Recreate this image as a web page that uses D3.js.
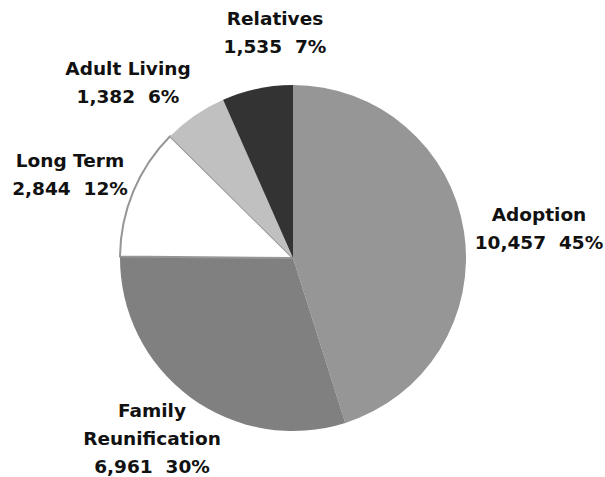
<!DOCTYPE html>
<html><head><meta charset="utf-8">
<script src="https://cdn.jsdelivr.net/npm/d3@7"></script>
<style>body{margin:0;background:#fff}svg{display:block}</style>
</head><body>
<svg id="chart" width="605" height="477"></svg>
<script>
const categories = ["Adoption", "Family Reunification", "Long Term", "Adult Living", "Relatives"];
const values = [10457, 6961, 2844, 1382, 1535];
const percents = ["45%", "30%", "12%", "6%", "7%"];
const colors = ["#969696", "#808080", "#ffffff", "#c0c0c0", "#333333"];
const labelLines = [["Adoption"], ["Family", "Reunification"], ["Long Term"], ["Adult Living"], ["Relatives"]];
const labelPos = [[539, 214], [152, 410], [70, 160], [128, 68], [275, 18]];

const svg = d3.select("#chart");
const cx = 293, cy = 258, r = 173;
const pie = d3.pie().sort(null).value(d => d)(values);
const arc = d3.arc().innerRadius(0).outerRadius(r);
const g = svg.append("g").attr("transform", `translate(${cx},${cy})`);
g.selectAll("path").data(pie).join("path")
  .attr("d", arc)
  .attr("fill", (d,i) => colors[i])
  .attr("stroke", (d,i) => i === 2 ? "#969696" : "none")
  .attr("stroke-width", 2);

const fmt = d3.format(",");
const lh = 28;
labelLines.forEach((lines, i) => {
  const t = svg.append("text")
    .attr("x", labelPos[i][0]).attr("y", labelPos[i][1])
    .attr("text-anchor", "middle")
    .attr("dominant-baseline", "central")
    .style("font-family", "'DejaVu Sans', sans-serif")
    .style("font-weight", "bold").style("font-size", "18.5px").attr("fill", "#111");
  const all = lines.concat([fmt(values[i]) + "\u00a0\u00a0" + percents[i]]);
  all.forEach((s, k) => t.append("tspan").attr("x", labelPos[i][0]).attr("y", labelPos[i][1] + k*lh).text(s));
});
</script>
</body></html>
